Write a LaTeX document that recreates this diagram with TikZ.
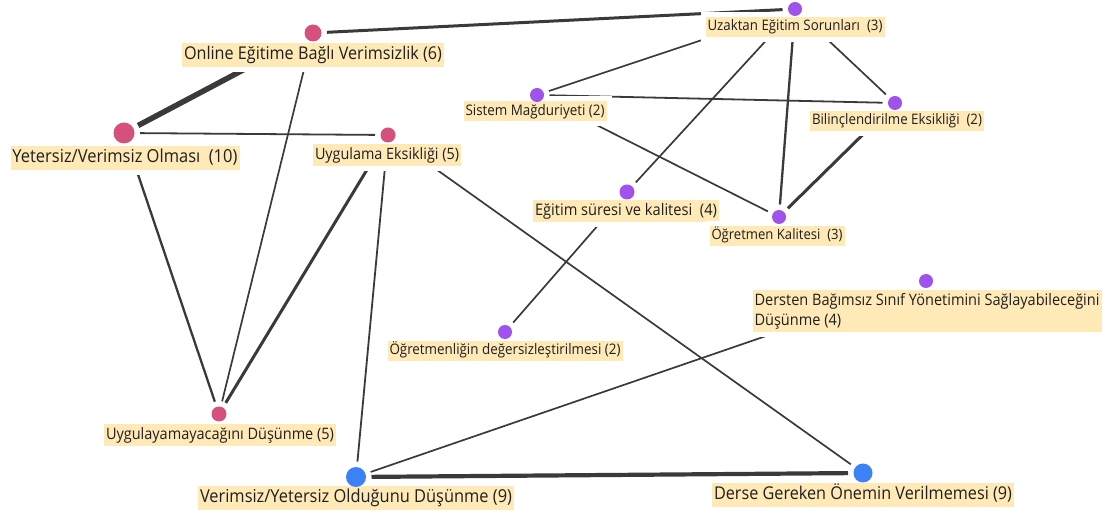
\documentclass[tikz,border=0pt]{standalone}
\usepackage{fontspec}
\setmainfont[FakeStretch=0.92]{Open Sans}
\usetikzlibrary{backgrounds}

\definecolor{dotpink}{RGB}{214,80,125}
\definecolor{dotpurple}{RGB}{160,82,238}
\definecolor{dotblue}{RGB}{59,130,246}
\definecolor{labfill}{RGB}{255,233,183}
\definecolor{edgegray}{RGB}{58,58,58}

\pgfdeclarelayer{dots}
\pgfsetlayers{background,main,dots}

% line strut used inside every label
\newcommand\lstrut{\rule[-0.35em]{0pt}{1.25em}}
% \fitw{w}{text}: typeset text at the size that makes it w pt wide
\newlength\fitlen
\newcommand\fitw[2]{%
  \settowidth\fitlen{\fontsize{10pt}{12pt}\selectfont #2}%
  \pgfmathsetmacro\fitsize{10*#1/\fitlen}%
  \global\let\lastfit\fitsize
  \fontsize{\fitsize pt}{\fitsize pt}\selectfont\lstrut #2}

\tikzset{
  dot/.style={circle, inner sep=0pt, outer sep=5.5pt, minimum size=#1},
  pinkdot/.style={dot=#1, fill=dotpink},
  purpledot/.style={dot=#1, fill=dotpurple},
  bluedot/.style={dot=#1, fill=dotblue},
  % the white frame keeps connectors clear of the label
  lab/.style={fill=labfill, draw=white, line width=5pt, inner xsep=4.5pt,
    inner ysep=3.5pt, text=black!88},
  link/.style={draw=edgegray, line width=#1},
}

\begin{document}
\begin{tikzpicture}[x=1pt, y=-1pt]
\useasboundingbox (0,0) rectangle (1112,518);

% dots
\begin{pgfonlayer}{dots}
\node[pinkdot=17]   (on) at (313,33)  {};
\node[pinkdot=21]   (yv) at (124,133) {};
\node[pinkdot=15]   (ue) at (388,135) {};
\node[pinkdot=15]   (ud) at (219,414) {};
\node[bluedot=20]   (vo) at (356,477) {};
\node[bluedot=19]   (dg) at (863,473) {};
\node[purpledot=14] (uz) at (795,9)   {};
\node[purpledot=14] (sm) at (537,95)  {};
\node[purpledot=14] (be) at (895,103) {};
\node[purpledot=15] (es) at (627,192) {};
\node[purpledot=14] (ok) at (779,217) {};
\node[purpledot=14] (db) at (926,281) {};
\node[purpledot=14] (od) at (505,332) {};
\end{pgfonlayer}

% labels
\node[lab] (onL) at (313,55)  {\fitw{258}{Online Eğitime Bağlı Verimsizlik (6)}};
\node[lab] (yvL) at (125,158) {\fitw{225}{Yetersiz/Verimsiz Olması~ (10)}};
\node[lab] (ueL) at (387,155) {\fitw{144}{Uygulama Eksikliği (5)}};
\node[lab] (udL) at (220,435) {\fitw{228}{Uygulayamayacağını Düşünme (5)}};
\node[lab] (voL) at (356,498) {\fitw{312}{Verimsiz/Yetersiz Olduğunu Düşünme (9)}};
\node[lab] (dgL) at (863,495) {\fitw{298}{Derse Gereken Önemin Verilmemesi (9)}};
\node[lab] (uzL) at (795,27)  {\fitw{175}{Uzaktan Eğitim Sorunları~ (3)}};
\node[lab] (smL) at (535,111) {\fitw{139}{Sistem Mağduriyeti (2)}};
\node[lab] (beL) at (897,121) {\fitw{170}{Bilinçlendirilme Eksikliği~ (2)}};
\node[lab] (esL) at (626,211) {\fitw{182}{Eğitim süresi ve kalitesi~ (4)}};
\node[lab] (okL) at (777,236) {\fitw{131}{Öğretmen Kalitesi~ (3)}};
\node[lab] (odL) at (505,351) {\fitw{231}{Öğretmenliğin değersizleştirilmesi (2)}};
\node[lab, align=left, anchor=north west] (dbL) at (747.5,285)
  {\fitw{345}{Dersten Bağımsız Sınıf Yönetimini Sağlayabileceğini}\\
   \fontsize{\lastfit pt}{\lastfit pt}\selectfont\lstrut Düşünme (4)};

% connectors, drawn beneath the labels
\begin{scope}[on background layer]
\draw[link=3pt]   (on) -- (uz);
\draw[link=5.5pt, shorten <=6pt] (on) -- (yv);
\draw[link=1.8pt] (yv) -- (ue);
\draw[link=1.7pt] (on) -- (ud);
\draw[link=2.3pt] (yv) -- (ud);
\draw[link=3pt]   (ue) -- (ud);
\draw[link=1.8pt] (ue) -- (vo);
\draw[link=1.7pt] (ue) -- (dg);
\draw[link=1.7pt] (uz) -- (sm);
\draw[link=1.7pt] (uz) -- (es);
\draw[link=2.3pt] (uz) -- (ok);
\draw[link=1.7pt] (uz) -- (be);
\draw[link=1.8pt] (sm) -- (be);
\draw[link=1.7pt] (sm) -- (ok);
\draw[link=3pt]   (be) -- (ok);
\draw[link=1.7pt] (es) -- (od);
\draw[link=1.7pt, shorten <=6pt] (db) -- (vo);
\draw[link=4.2pt] (vo) -- (dg);
\end{scope}
\end{tikzpicture}
\end{document}
